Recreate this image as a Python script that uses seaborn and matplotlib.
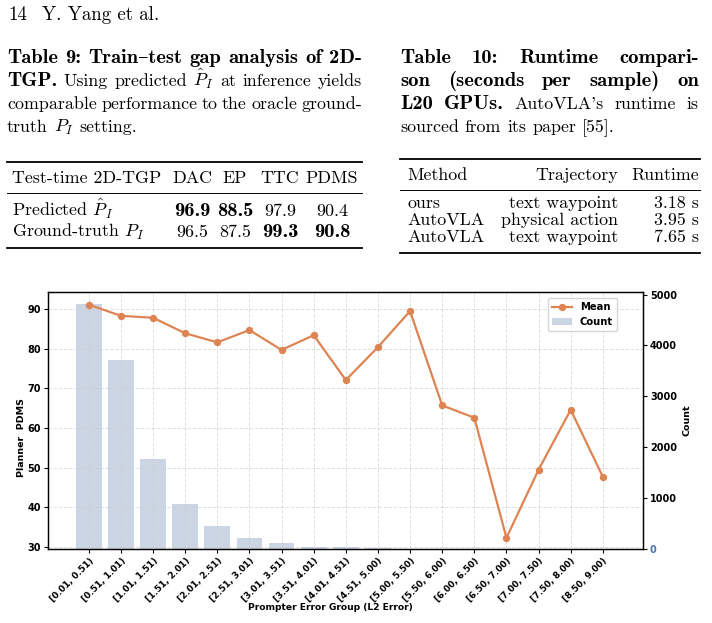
import matplotlib
matplotlib.use("Agg")
import matplotlib.pyplot as plt
import numpy as np
import seaborn as sns

plt.rcParams['mathtext.fontset'] = 'cm'

# chart data
groups = ["[0.01, 0.51)", "[0.51, 1.01)", "[1.01, 1.51)", "[1.51, 2.01)", "[2.01, 2.51)",
          "[2.51, 3.01)", "[3.01, 3.51)", "[3.51, 4.01)", "[4.01, 4.51)", "[4.51, 5.00)",
          "[5.00, 5.50)", "[5.50, 6.00)", "[6.00, 6.50)", "[6.50, 7.00)", "[7.00, 7.50)",
          "[7.50, 8.00)", "[8.50, 9.00)"]
means = [91.1, 88.3, 87.8, 83.9, 81.6, 84.7, 79.7, 83.4, 72.1, 80.4, 89.5,
         65.7, 62.6, 32.3, 49.5, 64.6, 47.7]
counts = [4810, 3710, 1760, 890, 460, 220, 125, 45, 40, 12, 6, 4, 3, 2, 2, 2, 1]

# table data
t9_cols = ["Test-time 2D-TGP", "DAC", "EP", "TTC", "PDMS"]
t9_rows = [r"Predicted $\hat{P}_I$", r"Ground-truth $P_I$"]
t9_vals = [["96.9", "88.5", "97.9", "90.4"], ["96.5", "87.5", "99.3", "90.8"]]
t9_bold = [[True, True, False, False], [False, False, True, True]]
t10_cols = ["Method", "Trajectory", "Runtime"]
t10_rows = [["ours", "text waypoint", "3.18 s"],
            ["AutoVLA", "physical action", "3.95 s"],
            ["AutoVLA", "text waypoint", "7.65 s"]]

W, H = 712, 623
fig = plt.figure(figsize=(W / 100, H / 100), dpi=100)
r = fig.canvas.get_renderer()
FS = 12.9
BF = 1.15  # cmb10 is narrower than the extended bold in the paper


def fx(x):
    return x / W


def fy(y):
    return 1 - y / H


def fam(bold):
    return ['cmb10' if bold else 'cmr10', 'DejaVu Serif']


def put(x, y, s, bold=False, ha='left', size=FS):
    return fig.text(fx(x), fy(y), s, family=fam(bold), fontsize=size * (BF if bold else 1),
                    ha=ha, va='baseline')


def put_line(segs, x0, y, x1=None):
    texts = [put(0, y, w, b) for w, b in segs]
    widths = [t.get_window_extent(r).width for t in texts]
    if x1 is None:
        gap = 0.333 * FS * 100 / 72
    else:
        gap = (x1 - x0 - sum(widths)) / (len(texts) - 1)
    x = x0
    for t, w in zip(texts, widths):
        t.set_position((fx(x), fy(y)))
        x += w + gap


def words(s, bold=False):
    return [(w, bold) for w in s.split(' ')]


def rule(x0, x1, y, lw):
    fig.add_artist(plt.Line2D([fx(x0), fx(x1)], [fy(y), fy(y)], color='black', lw=lw,
                              transform=fig.transFigure))


# running head
put(8, 20, "14", size=13.6)
put(42, 20, "Y. Yang et al.", size=13.6)

# captions
put_line(words("Table 9: Train–test gap analysis of 2D-", True), 7, 63, 362)
put_line(words("TGP.", True) + words(r"Using predicted $\hat{P}_I$ at inference yields"), 7, 86, 362)
put_line(words("comparable performance to the oracle ground-"), 7, 109, 362)
put_line(words(r"truth $P_I$ setting."), 7, 132)
put_line(words("Table 10: Runtime compari-", True), 400, 63, 699)
put_line(words("son (seconds per sample) on", True), 400, 86, 699)
put_line(words("L20 GPUs.", True) + words("AutoVLA's runtime is"), 400, 109, 699)
put_line(words("sourced from its paper [55]."), 400, 132)

# table 9
rule(7, 362, 162, 1.3)
rule(7, 362, 193, 0.7)
rule(7, 362, 248, 1.3)
c9 = [192, 235, 280, 332]
put(12, 183, t9_cols[0])
for c, h in zip(c9, t9_cols[1:]):
    put(c, 183, h, ha='center')
for i, (lab, vals, bolds) in enumerate(zip(t9_rows, t9_vals, t9_bold)):
    y = 216 + i * 21
    put(12, y, lab)
    for c, v, b in zip(c9, vals, bolds):
        put(c, y, v, bold=b, ha='center')

# table 10
rule(400, 700, 159, 1.3)
rule(400, 700, 190, 0.7)
rule(400, 700, 253, 1.3)
put(407, 180, t10_cols[0])
put(618, 180, t10_cols[1], ha='right')
put(699, 180, t10_cols[2], ha='right')
for i, row in enumerate(t10_rows):
    y = 208 + i * 17
    put(407, y, row[0])
    put(618, y, row[1], ha='right')
    put(699, y, row[2], ha='right')

# chart
L, R, T, B = 48, 643, 292, 549
ax = fig.add_axes([fx(L), fy(B), (R - L) / W, (B - T) / H])
ax2 = ax.twinx()
n = len(groups)
sns.barplot(x=np.arange(n), y=counts, ax=ax2, color='#4c72b0', alpha=0.3, width=0.8,
            label='Count', native_scale=True)
sns.lineplot(x=np.arange(n), y=means, ax=ax, color='#dd8452', marker='o', markersize=5.3,
             markeredgewidth=0, linewidth=1.6, label='Mean')
if ax2.get_legend() is not None:
    ax2.get_legend().remove()
ax.set_zorder(ax2.get_zorder() + 1)
ax.patch.set_visible(False)

ax.set_xlim(-1.27, 17.25)
ax.set_ylim(29.5, 94.3)
ax2.set_ylim(0, max(counts) * 1.05)
ax.set_xticks(np.arange(n))
ax.set_xticklabels(groups, rotation=45, ha='right', rotation_mode='anchor')
ax.set_yticks(np.arange(30, 91, 10))
ax2.set_yticks(np.arange(0, 5001, 1000))
ax.grid(True, linestyle='--', color='#cccccc', alpha=0.6, linewidth=0.7)
ax2.grid(False)

ax.tick_params(axis='x', labelsize=6.4, width=0.8, length=3, pad=2)
ax.tick_params(axis='y', labelsize=7.0, width=0.8, length=3, pad=2)
ax2.tick_params(labelsize=7.0, width=0.8, length=3, pad=2)
for lab in ax.get_xticklabels() + ax.get_yticklabels() + ax2.get_yticklabels():
    lab.set_fontweight('bold')
ax2.get_yticklabels()[0].set_color('#4c72b0')

ax.set_xlabel("Prompter Error Group (L2 Error)", fontsize=6.6, fontweight='bold')
ax.xaxis.set_label_coords((330 - L) / (R - L), -(603 - B) / (B - T))
ax.set_ylabel("Planner  PDMS", fontsize=6.8, fontweight='bold')
ax.yaxis.set_label_coords(-(L - 26) / (R - L), (B - 438) / (B - T))
ax2.set_ylabel("Count", fontsize=6.8, fontweight='bold')

h1, l1 = ax.get_legend_handles_labels()
h2, l2 = ax2.get_legend_handles_labels()
leg = ax.legend(h1 + h2, l1 + l2, loc='upper right',
                bbox_to_anchor=((617 - L) / (R - L), (B - 298) / (B - T)),
                borderaxespad=0, prop={'size': 7.2, 'weight': 'bold'})
for sp in list(ax.spines.values()) + list(ax2.spines.values()):
    sp.set_linewidth(0.9)

fig.savefig('out.png', dpi=100)
